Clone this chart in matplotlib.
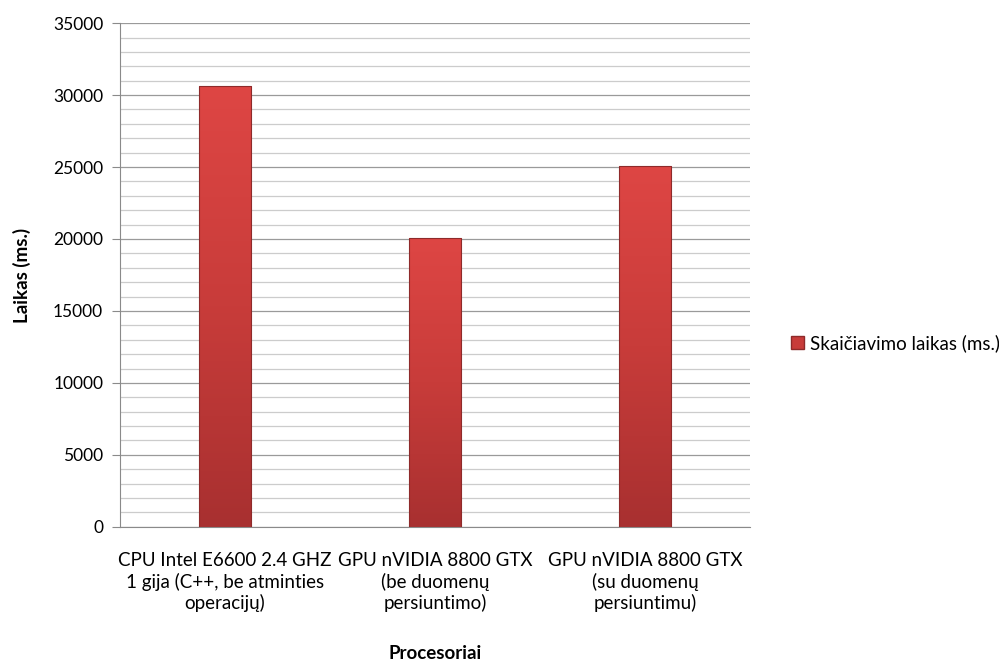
import matplotlib.pyplot as plt
import numpy as np
from matplotlib.colors import LinearSegmentedColormap
from matplotlib.patches import Patch

categories = ['CPU Intel E6600 2.4 GHZ\n1 gija (C++, be atminties\noperacijų)',
              'GPU nVIDIA 8800 GTX\n(be duomenų\npersiuntimo)',
              'GPU nVIDIA 8800 GTX\n(su duomenų\npersiuntimu)']
values = [30600, 20100, 25100]
series_name = 'Skaičiavimo laikas (ms.)'

plt.rcParams['font.family'] = ['Lato', 'DejaVu Sans']

fig = plt.figure(figsize=(9.99, 6.61), dpi=100)
ax = fig.add_axes([0.12, 0.203, 0.631, 0.762])

x = np.arange(len(values))
bars = ax.bar(x, values, width=0.25, color='none', edgecolor='#8e2a2a', linewidth=0.8, zorder=3)

# vertical gradient inside each bar
cmap = LinearSegmentedColormap.from_list('red', ['#a83030', '#c83c3a', '#de4644'])
grad = np.linspace(0, 1, 256).reshape(-1, 1)
for b in bars:
    x0, y0 = b.get_x(), b.get_y()
    w, h = b.get_width(), b.get_height()
    im = ax.imshow(grad, cmap=cmap, origin='lower', aspect='auto',
                   extent=[x0, x0 + w, y0, y0 + h], zorder=2)
    im.set_clip_path(b)

ax.set_xlim(-0.5, 2.5)
ax.set_ylim(0, 35000)
ax.set_yticks(np.arange(0, 35001, 5000))
ax.set_yticks(np.arange(0, 35001, 1000), minor=True)
ax.grid(axis='y', which='major', color='#9a9a9a', linewidth=0.9, zorder=0)
ax.grid(axis='y', which='minor', color='#cccccc', linewidth=0.9, zorder=0)
ax.set_axisbelow(True)

for s in ['top', 'right']:
    ax.spines[s].set_visible(False)
ax.spines['left'].set_color('#8a8a8a')
ax.spines['bottom'].set_color('#8a8a8a')

ax.tick_params(axis='y', which='major', length=6, color='#8a8a8a', labelsize=12.5, pad=6)
ax.tick_params(axis='y', which='minor', length=0)
ax.tick_params(axis='x', length=0, labelsize=13.5, pad=18)
ax.set_xticks(x)
ax.set_xticklabels(categories, linespacing=1.25)

ax.set_ylabel('Laikas (ms.)', fontsize=13.5, fontweight='bold')
ax.yaxis.set_label_coords(-0.141, 0.5)
ax.set_xlabel('Procesoriai', fontsize=13.5, fontweight='bold')
ax.xaxis.set_label_coords(0.5, -0.234)

ax.legend(handles=[Patch(facecolor='#c83c3a', edgecolor='#8e2a2a', label=series_name)],
          loc='center left', bbox_to_anchor=(1.038, 0.365), frameon=False,
          fontsize=13.5, handlelength=0.7, handleheight=0.7, handletextpad=0.3)

fig.savefig('out.png', dpi=100)
